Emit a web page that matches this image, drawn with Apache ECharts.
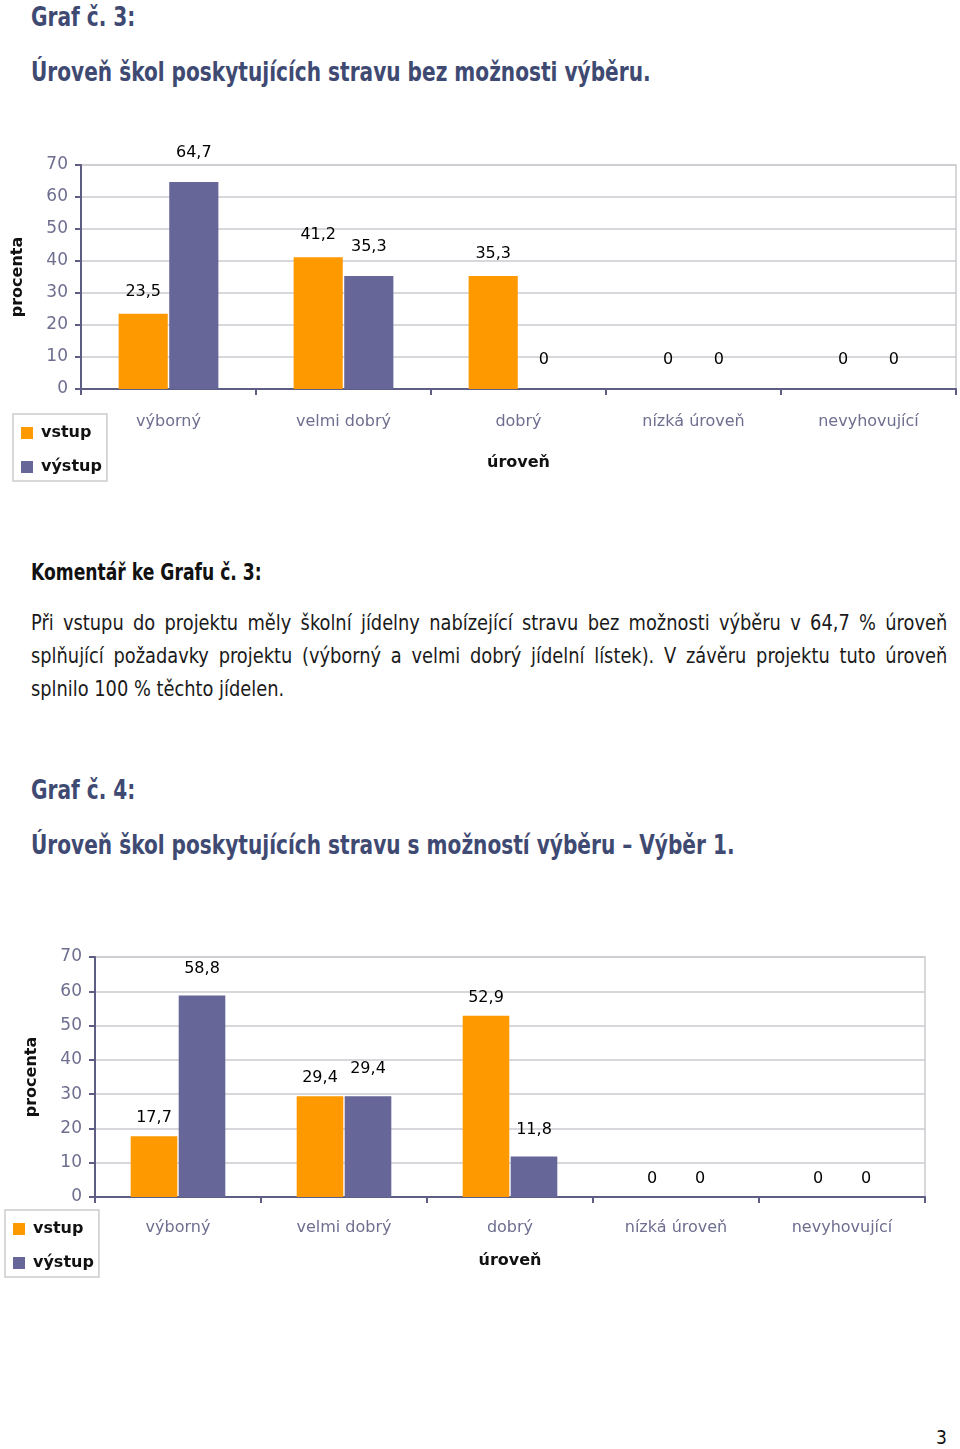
<!DOCTYPE html>
<html>
<head>
<meta charset="utf-8">
<script src="https://cdn.jsdelivr.net/npm/echarts@6/dist/echarts.min.js"></script>
<style>
  html, body { margin: 0; padding: 0; background: #fff; }
  body { width: 960px; height: 1449px; position: relative; overflow: hidden; }
  .t { position: absolute; white-space: nowrap; font-family: "DejaVu Sans Condensed", "DejaVu Sans", sans-serif; transform-origin: 0 0; }
  .head { color: #3f4a73; font-weight: bold; font-size: 26px; transform: scale(0.86, 1); }
  .body { left: 31px; width: 1018px; font-size: 22px; color: #1a1a1a; line-height: 33px; transform: scale(0.9, 1); }
  .body div { text-align: justify; text-align-last: justify; }
  .body div.last { text-align-last: left; }
  .chart { position: absolute; left: 0; width: 960px; height: 370px; }
</style>
</head>
<body>
<div class="t head" style="left:31px; top:2px;">Graf č. 3:</div>
<div class="t head" style="left:31px; top:57px;">Úroveň škol poskytujících stravu bez možnosti výběru.</div>
<div id="graf3" class="chart" style="top:130px;"></div>

<div class="t" style="left:31px; top:559px; font-size:23px; font-weight:bold; color:#111; transform:scale(0.83, 1);">Komentář ke Grafu č. 3:</div>
<div class="t body" style="top:606px;">
  <div>Při vstupu do projektu měly školní jídelny nabízející stravu bez možnosti výběru v 64,7 % úroveň</div>
  <div>splňující požadavky projektu (výborný a velmi dobrý jídelní lístek). V závěru projektu tuto úroveň</div>
  <div class="last">splnilo 100 % těchto jídelen.</div>
</div>

<div class="t head" style="left:31px; top:775px;">Graf č. 4:</div>
<div class="t head" style="left:31px; top:830px;">Úroveň škol poskytujících stravu s možností výběru – Výběr 1.</div>
<div id="graf4" class="chart" style="top:930px;"></div>

<div class="t" style="left:936px; top:1426px; font-size:19px; color:#111;">3</div>

<script>
// úrovně (kategorie osy x)
const categories = ['výborný', 'velmi dobrý', 'dobrý', 'nízká úroveň', 'nevyhovující'];
const seriesNames = ['vstup', 'výstup'];

// Graf č. 3 – bez možnosti výběru
const graf3Vstup = [23.5, 41.2, 35.3, 0, 0];
const graf3Vystup = [64.7, 35.3, 0, 0, 0];

// Graf č. 4 – s možností výběru, Výběr 1
const graf4Vstup = [17.7, 29.4, 52.9, 0, 0];
const graf4Vystup = [58.8, 29.4, 11.8, 0, 0];

// osa y
const yMin = 0;
const yMax = 70;
const yStep = 10;

const ORANGE = '#ff9900';
const PURPLE = '#666699';
const AXIS = '#5e5e85';
const LABEL = '#6e6e90';
const GRID = '#cbcbd0';
const FONT = 'DejaVu Sans';

const fmt = v => String(v).replace('.', ',');

const barData = (values, zeroDist) => values.map(v =>
    v === 0 ? { value: v, label: { distance: zeroDist } } : v);

const makeOption = c => ({
    animation: false,
    textStyle: { fontFamily: FONT },
    grid: {
        left: c.grid[0], right: c.grid[1], top: c.grid[2], bottom: c.grid[3],
        show: true, borderColor: GRID, borderWidth: 1.5, backgroundColor: 'transparent'
    },
    legend: {
        orient: 'vertical',
        left: c.legend[0], top: c.legend[1],
        icon: 'rect', itemWidth: 12, itemHeight: 12, itemGap: 18,
        padding: [11, 5, 6, 8],
        borderColor: GRID, borderWidth: 1.5,
        textStyle: { fontFamily: FONT, fontSize: 16, fontWeight: 'bold', color: '#111', padding: [0, 0, 0, 3] },
        data: seriesNames
    },
    xAxis: {
        type: 'category',
        data: categories,
        name: 'úroveň',
        nameLocation: 'middle',
        nameGap: c.xNameGap,
        nameTextStyle: { fontFamily: FONT, fontSize: 16, fontWeight: 'bold', color: '#111' },
        axisLine: { lineStyle: { color: AXIS, width: 2 } },
        axisTick: { show: true, length: 6, lineStyle: { color: AXIS, width: 2 } },
        axisLabel: { margin: c.xLabelMargin, fontFamily: FONT, fontSize: 16, color: LABEL }
    },
    yAxis: {
        type: 'value',
        min: yMin, max: yMax, interval: yStep,
        name: 'procenta',
        nameLocation: 'middle',
        nameRotate: 90,
        nameGap: c.yNameGap,
        nameTextStyle: { fontFamily: FONT, fontSize: 16, fontWeight: 'bold', color: '#111' },
        axisLine: { show: true, lineStyle: { color: AXIS, width: 2 } },
        axisTick: { show: true, length: 6, lineStyle: { color: AXIS, width: 2 } },
        axisLabel: { margin: 13, fontFamily: FONT, fontSize: 17, color: LABEL },
        splitLine: { lineStyle: { color: GRID, width: 1.5 } }
    },
    series: [
        {
            name: seriesNames[0], type: 'bar',
            data: barData(c.vstup, c.zeroDist),
            barGap: '3%', barCategoryGap: '43%',
            itemStyle: { color: ORANGE },
            label: { show: true, position: 'top', distance: c.dist[0], formatter: p => fmt(p.value),
                     fontFamily: FONT, fontSize: 16, color: '#000' }
        },
        {
            name: seriesNames[1], type: 'bar',
            data: barData(c.vystup, c.zeroDist),
            barGap: '3%', barCategoryGap: '43%',
            itemStyle: { color: PURPLE },
            label: { show: true, position: 'top', distance: c.dist[1], formatter: p => fmt(p.value),
                     fontFamily: FONT, fontSize: 16, color: '#000' }
        }
    ]
});

const g3 = echarts.init(document.getElementById('graf3'), null, { renderer: 'canvas' });
g3.setOption(makeOption({
    grid: [81, 4, 35, 111],
    legend: [13, 284],
    xNameGap: 66, xLabelMargin: 25, yNameGap: 55,
    dist: [14, 21], zeroDist: 21,
    vstup: graf3Vstup, vystup: graf3Vystup
}));

const g4 = echarts.init(document.getElementById('graf4'), null, { renderer: 'canvas' });
g4.setOption(makeOption({
    grid: [95, 35, 27, 103],
    legend: [5, 280],
    xNameGap: 56, xLabelMargin: 23, yNameGap: 55,
    dist: [10, 19], zeroDist: 10,
    vstup: graf4Vstup, vystup: graf4Vystup
}));
</script>
</body>
</html>
